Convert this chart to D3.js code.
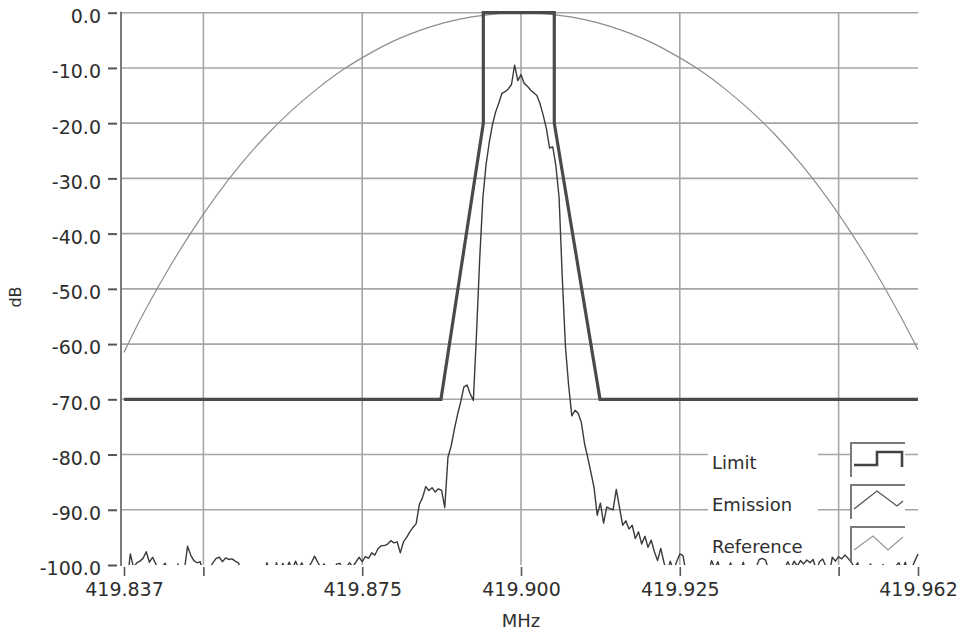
<!DOCTYPE html>
<html>
<head>
<meta charset="utf-8">
<script src="https://cdn.jsdelivr.net/npm/d3@7"></script>
<style>
  html, body { margin: 0; padding: 0; background: #ffffff; }
  svg { display: block; }
  text { font-family: "DejaVu Sans", sans-serif; fill: #2e2e2e; }
</style>
</head>
<body>
<svg id="chart" width="960" height="634"></svg>
<script>
// ---- Data ---------------------------------------------------------------

// Axis ticks
const xTickValues = [419.8375, 419.85, 419.875, 419.9, 419.925, 419.95, 419.9625];
const xTickLabels = ["419.837", "", "419.875", "419.900", "419.925", "", "419.962"];
const xGridValues = [419.85, 419.875, 419.9, 419.925, 419.95];
const yTickValues = [0, -10, -20, -30, -40, -50, -60, -70, -80, -90, -100];
const yTickLabels = ["0.0", "-10.0", "-20.0", "-30.0", "-40.0", "-50.0", "-60.0", "-70.0", "-80.0", "-90.0", "-100.0"];
const yGridValues = [0, -10, -20, -30, -40, -50, -60, -70, -80, -90];

const seriesNames = ["Limit", "Emission", "Reference"];

// Spectral mask (MHz, dB)
const limitFreq = [419.8375, 419.8874, 419.89407, 419.89407, 419.90524, 419.90524, 419.91244, 419.9625];
const limitDb   = [-70, -70, -20, 0, 0, -20, -70, -70];

// Reference response (MHz, dB)
const refFreq = [419.8375, 419.840, 419.844, 419.848, 419.852, 419.856, 419.860, 419.864,
                 419.868, 419.872, 419.876, 419.880, 419.884, 419.888, 419.892, 419.896,
                 419.900,
                 419.904, 419.908, 419.912, 419.916, 419.920, 419.924, 419.928, 419.932,
                 419.936, 419.940, 419.944, 419.948, 419.952, 419.956, 419.960, 419.9625];
const refDb   = [-61.5, -55.7, -47.4, -39.9, -33.2, -27.3, -22.1, -17.6,
                 -13.7, -10.3, -7.5, -5.1, -3.25, -1.8, -0.8, -0.2,
                 0,
                 -0.2, -0.8, -1.8, -3.25, -5.1, -7.5, -10.3, -13.7,
                 -17.6, -22.1, -27.3, -33.2, -39.9, -47.3, -55.5, -61.0];

// Measured emission spectrum: first bin frequency, bin spacing, level per bin (dB)
const emissionStart = 419.8375;
const emissionStep = 0.0005;
const emissionDb = [
  -101.5, -103, -98.0, -100.5, -99.6, -99.3, -98.8, -97.6, -99.5, -98.6,
  -99.8, -101.5, -100.3, -99.7, -102, -101, -103, -99.8, -102.5, -101,
  -96.6, -98.2, -99.2, -99.6, -99.4, -102, -103, -100.5, -99.6, -98.8,
  -98.6, -99.4, -98.7, -99.0, -98.9, -99.3, -99.6, -101, -102.5, -103,
  -102, -104, -102.5, -103, -101.5, -99.6, -101.5, -102.5, -99.6, -101.5,
  -99.7, -101, -99.5, -100.8, -99.3, -100.6, -99.6, -101.2, -100.4, -99.6,
  -98.4, -99.5, -100.5, -99.8, -101.5, -102.5, -100.8, -99.8, -99.7, -101,
  -100.4, -99.6, -100.3, -99.5, -98.6, -99.4, -98.5, -98.8, -97.8, -98.2,
  -97.0, -96.5, -96.5, -96.2, -95.6, -96.0, -95.8, -97.8, -95.8, -95.0,
  -94.0, -93.2, -92.5, -89.0, -87.8, -85.8, -86.5, -86.0, -86.8, -86.2,
  -86.5, -89.6, -80.5, -78.5, -75.5, -72.8, -70.5, -67.8, -67.4, -69.0,
  -70.2, -58, -44.5, -33.5, -27.5, -23.5, -20.3, -18.0, -16.4, -14.6,
  -14.3, -13.8, -13.0, -9.5, -12.3, -11.2, -12.8, -13.3, -14.0, -14.5,
  -15.0, -16.5, -18.6, -21.0, -24.5, -24.3, -27.8, -33.5, -48, -60.5,
  -67.5, -73.0, -72.0, -72.5, -74.2, -78.0, -80.5, -83.2, -86.0, -91.0,
  -88.8, -92.4, -89.5, -89.8, -90.0, -86.3, -89.5, -92.8, -92.0, -93.5,
  -92.8, -95.2, -94.0, -96.2, -94.8, -96.8, -95.5, -97.6, -99.2, -97.0,
  -99.5, -101.5, -99.3, -101, -99.4, -98.0, -98.3, -101.5, -100.6, -102,
  -101, -102.5, -100.8, -103, -101.5, -99.2, -100.6, -99.4, -101.5, -102.5,
  -101, -99.6, -101.8, -103, -101.2, -99.5, -102, -103, -101.5, -100.5,
  -99.0, -98.8, -99.1, -101, -102.5, -101.5, -103, -101.6, -100.6, -99.4,
  -100.6, -99.3, -100.2, -99.2, -99.8, -99.1, -99.6, -99.0, -101, -99.4,
  -98.9, -100.3, -102, -98.6, -99.3, -98.5, -98.9, -98.2, -98.8, -99.5,
  -100.5, -99.6, -101.5, -100.2, -102, -99.8, -101, -100.5, -102, -99.9,
  -101.2, -100.4, -102.5, -100.2, -99.6, -101, -99.5, -101.5, -100.6, -99.3,
  -98.0
];

// ---- Drawing ------------------------------------------------------------

const svg = d3.select("#chart");
const plotLeft = 121, plotRight = 918, plotTop = 12.7, plotBottom = 565;

const x = d3.scaleLinear().domain([419.8375, 419.9625]).range([124, 918]);
const y = d3.scaleLinear().domain([-100, 0]).range([565, 12.7]);

svg.append("rect").attr("width", 960).attr("height", 634).attr("fill", "#ffffff");

// grid
const grid = svg.append("g").attr("stroke", "#a6a6a6").attr("stroke-width", 1.6);
grid.selectAll("line.h").data(yGridValues).join("line")
  .attr("class", "h")
  .attr("x1", plotLeft).attr("x2", plotRight)
  .attr("y1", d => y(d)).attr("y2", d => y(d));
grid.selectAll("line.v").data(xGridValues).join("line")
  .attr("class", "v")
  .attr("x1", d => x(d)).attr("x2", d => x(d))
  .attr("y1", plotTop).attr("y2", plotBottom);

// clip for data lines
svg.append("defs").append("clipPath").attr("id", "plotClip")
  .append("rect").attr("x", plotLeft).attr("y", plotTop - 3)
  .attr("width", plotRight - plotLeft + 1).attr("height", plotBottom - plotTop + 3);

const plot = svg.append("g").attr("clip-path", "url(#plotClip)");

const refPts = refFreq.map((f, i) => [f, refDb[i]]);
const limitPts = limitFreq.map((f, i) => [f, limitDb[i]]);
const emissionPts = emissionDb.map((v, i) => [emissionStart + i * emissionStep, v]);

const smoothLine = d3.line().x(d => x(d[0])).y(d => y(d[1])).curve(d3.curveMonotoneX);
const straightLine = d3.line().x(d => x(d[0])).y(d => y(d[1]));

plot.append("path").datum(refPts)
  .attr("d", smoothLine)
  .attr("fill", "none").attr("stroke", "#8e8e8e").attr("stroke-width", 1.2);

plot.append("path").datum(limitPts)
  .attr("d", straightLine)
  .attr("fill", "none").attr("stroke", "#4a4a4a").attr("stroke-width", 3.2)
  .attr("stroke-linejoin", "miter");

plot.append("path").datum(emissionPts)
  .attr("d", straightLine)
  .attr("fill", "none").attr("stroke", "#3a3a3a").attr("stroke-width", 1.4)
  .attr("stroke-linejoin", "round");

// left axis line
svg.append("line")
  .attr("x1", plotLeft).attr("x2", plotLeft)
  .attr("y1", plotTop - 1).attr("y2", plotBottom + 1)
  .attr("stroke", "#7a7a7a").attr("stroke-width", 2);

// y axis
const yAxis = svg.append("g").attr("transform", "translate(117,0)")
  .call(d3.axisLeft(y).tickValues(yTickValues)
    .tickFormat((d, i) => yTickLabels[i]).tickSize(9).tickPadding(7));
yAxis.select(".domain").remove();
yAxis.selectAll(".tick line").attr("stroke", "#555").attr("stroke-width", 2);
yAxis.selectAll(".tick text")
  .attr("dy", "0.52em")
  .style("font-family", "DejaVu Sans, sans-serif")
  .style("font-size", "19px").attr("fill", "#2e2e2e");

// x axis
const xAxis = svg.append("g").attr("transform", "translate(0,567)")
  .call(d3.axisBottom(x).tickValues(xTickValues)
    .tickFormat((d, i) => xTickLabels[i]).tickSize(9).tickPadding(7));
xAxis.select(".domain").remove();
xAxis.selectAll(".tick line").attr("stroke", "#555").attr("stroke-width", 1.6);
xAxis.selectAll(".tick text")
  .style("font-family", "DejaVu Sans, sans-serif")
  .style("font-size", "19px").attr("fill", "#2e2e2e");

// axis titles
svg.append("text")
  .attr("transform", "translate(21,297) rotate(-90)")
  .attr("text-anchor", "middle")
  .style("font-size", "16px").text("dB");
svg.append("text")
  .attr("x", 521).attr("y", 627)
  .attr("text-anchor", "middle")
  .style("font-size", "18px").text("MHz");

// legend
const legendBaselines = [469, 511, 553];
const legend = svg.append("g");
seriesNames.forEach((name, i) => {
  const b = legendBaselines[i];
  legend.append("rect")
    .attr("x", 708).attr("y", b - 22).attr("width", 110).attr("height", 26)
    .attr("fill", "#ffffff");
  legend.append("text")
    .attr("x", 712).attr("y", b)
    .style("font-size", "18px").text(name);

  const bx = 851, by = b - 26, bw = 54, bh = 34;
  legend.append("rect").attr("x", bx).attr("y", by).attr("width", bw).attr("height", bh)
    .attr("fill", "#ffffff");
  legend.append("path")
    .attr("d", `M${bx},${by + bh} V${by} H${bx + bw}`)
    .attr("fill", "none").attr("stroke", "#7a7a7a").attr("stroke-width", 2);

  let glyph, color, width;
  if (i === 0) {
    glyph = `M${bx + 3},${by + 22} H${bx + 26} V${by + 9} H${bx + 51} V${by + 24}`;
    color = "#444"; width = 2.6;
  } else if (i === 1) {
    glyph = `M${bx + 3},${by + 24} L${bx + 26},${by + 6} L${bx + 46},${by + 21} L${bx + 52},${by + 16}`;
    color = "#555"; width = 1.3;
  } else {
    glyph = `M${bx + 3},${by + 23} L${bx + 22},${by + 9} L${bx + 37},${by + 23} L${bx + 52},${by + 10}`;
    color = "#999"; width = 1.3;
  }
  legend.append("path").attr("d", glyph)
    .attr("fill", "none").attr("stroke", color).attr("stroke-width", width);
});
</script>
</body>
</html>
